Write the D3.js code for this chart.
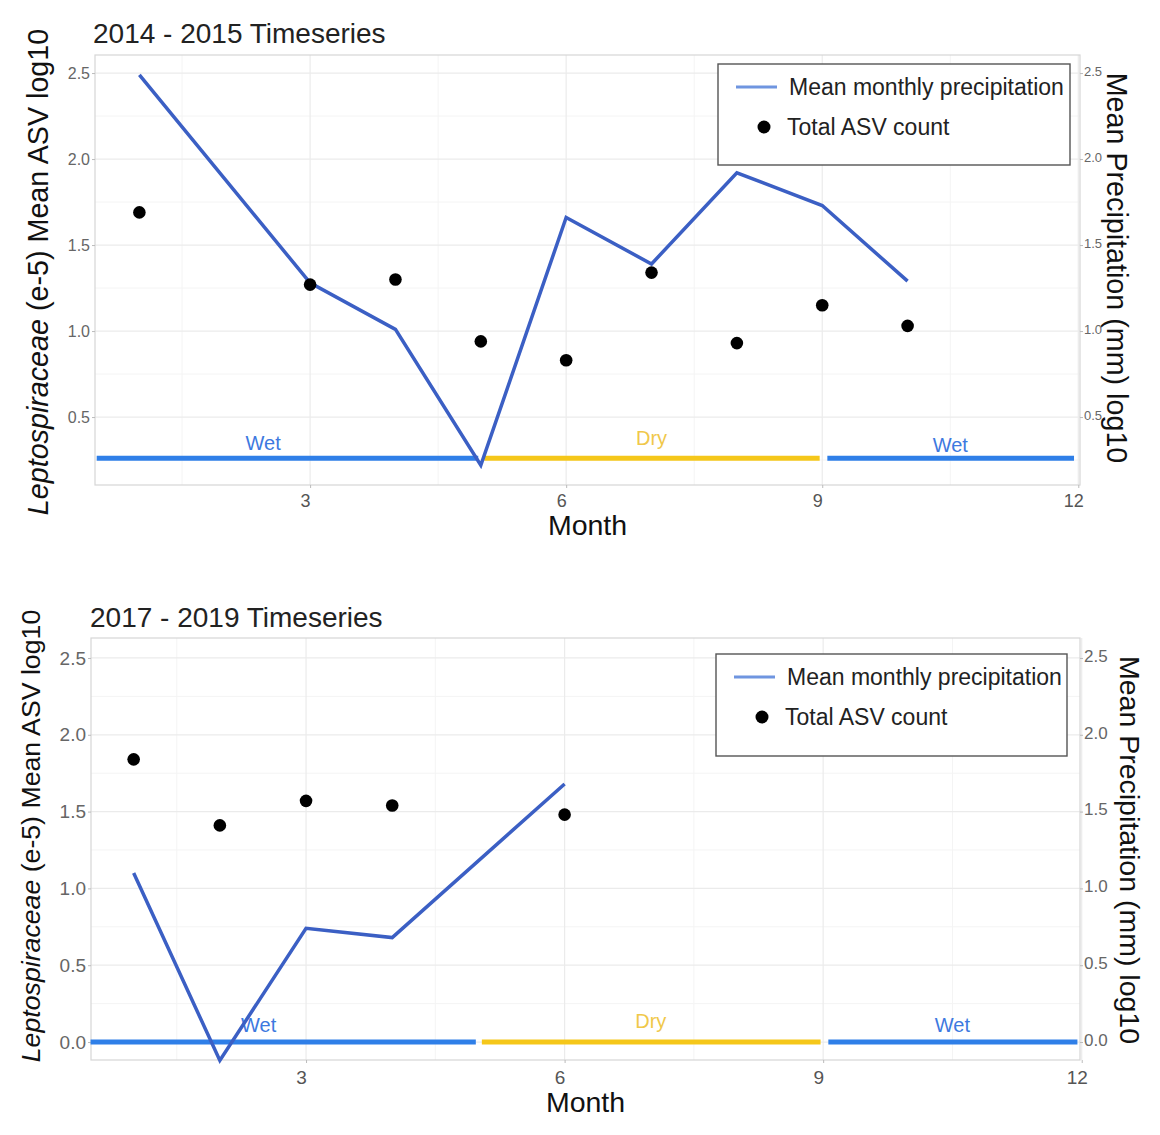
<!DOCTYPE html>
<html>
<head>
<meta charset="utf-8">
<script src="https://cdn.jsdelivr.net/npm/d3@7"></script>
<style>
  body { margin: 0; background: #fff; }
  svg text { font-family: "Liberation Sans", Arial, sans-serif; }
</style>
</head>
<body>
<div id="chart"></div>
<script>
// month axis
const monthTicks = [3, 6, 9, 12];
const monthMinor = [1.5, 4.5, 7.5, 10.5];

// seasons (same for both panels)
const seasonNames = ["Wet", "Dry", "Wet"];
const seasonStart = [0.5, 5.04, 9.06];
const seasonEnd = [4.97, 8.97, 11.95];
const seasonLabelX = [2.45, 7, 10.5];

// 2014 - 2015
const asvMonths1 = [1, 3, 4, 5, 6, 7, 8, 9, 10];
const asvValues1 = [1.69, 1.27, 1.30, 0.94, 0.83, 1.34, 0.93, 1.15, 1.03];
const precipMonths1 = [1, 3, 4, 5, 6, 7, 8, 9, 10];
const precipValues1 = [2.49, 1.28, 1.01, 0.22, 1.66, 1.39, 1.92, 1.73, 1.29];
const seasonLevel1 = 0.26;
const seasonLabelY1 = [0.35, 0.38, 0.34];
const yTicks1 = [0.5, 1.0, 1.5, 2.0, 2.5];

// 2017 - 2019
const asvMonths2 = [1, 2, 3, 4, 6];
const asvValues2 = [1.84, 1.41, 1.57, 1.54, 1.48];
const precipMonths2 = [1, 2, 3, 4, 6];
const precipValues2 = [1.10, -0.12, 0.74, 0.68, 1.68];
const seasonLevel2 = 0;
const seasonLabelY2 = [0.11, 0.14, 0.11];
const yTicks2 = [0.0, 0.5, 1.0, 1.5, 2.0, 2.5];

const lineColor = "#3b5fc4";
const wetColor = "#2f7fe8";
const dryColor = "#f5c71a";

var svg = d3.select("#chart").append("svg")
    .attr("width", 1160)
    .attr("height", 1135);

drawPanel({
  title: "2014 - 2015 Timeseries", titleX: 93, titleY: 43,
  left: 95, right: 1080, top: 55, bottom: 485,
  xDomain: [0.48, 12.02], yDomain: [0.105, 2.605],
  yTicks: yTicks1, tickFont: 16, rightTickFont: 13, xTickFont: 18,
  asvMonths: asvMonths1, asvValues: asvValues1,
  precipMonths: precipMonths1, precipValues: precipValues1,
  seasonLevel: seasonLevel1, seasonLabelY: seasonLabelY1,
  leftTitleX: 48, leftTitleY: 272, leftTitleSize: 28.7,
  rightTitleX: 1107, rightTitleY: 268, rightTitleSize: 28.7,
  monthY: 535, xTickY: 507, rightTickX: 1083,
  legend: {x: 718, y: 64, w: 352, h: 101}
});

drawPanel({
  title: "2017 - 2019 Timeseries", titleX: 90, titleY: 627,
  left: 91, right: 1080, top: 638, bottom: 1060,
  xDomain: [0.505, 11.98], yDomain: [-0.117, 2.63],
  yTicks: yTicks2, tickFont: 19, rightTickFont: 17, xTickFont: 19,
  asvMonths: asvMonths2, asvValues: asvValues2,
  precipMonths: precipMonths2, precipValues: precipValues2,
  seasonLevel: seasonLevel2, seasonLabelY: seasonLabelY2,
  leftTitleX: 40, leftTitleY: 836, leftTitleSize: 26.7,
  rightTitleX: 1120, rightTitleY: 850, rightTitleSize: 28.5,
  monthY: 1112, xTickY: 1084, rightTickX: 1087,
  legend: {x: 716, y: 654, w: 351, h: 102}
});

function drawPanel(p) {
  var g = svg.append("g");

  var x = d3.scaleLinear().domain(p.xDomain).range([p.left, p.right]);
  var y = d3.scaleLinear().domain(p.yDomain).range([p.bottom, p.top]);

  var yMinor = d3.range(p.yTicks[0] - 0.25, 2.75, 0.5)
      .filter(v => v > p.yDomain[0] && v < p.yDomain[1]);

  // grid
  g.selectAll(".xminor").data(monthMinor).enter().append("line")
    .attr("x1", d => x(d)).attr("x2", d => x(d))
    .attr("y1", p.top).attr("y2", p.bottom)
    .attr("stroke", "#f4f4f4").attr("stroke-width", 1);
  g.selectAll(".yminor").data(yMinor).enter().append("line")
    .attr("x1", p.left).attr("x2", p.right)
    .attr("y1", d => y(d)).attr("y2", d => y(d))
    .attr("stroke", "#f4f4f4").attr("stroke-width", 1);
  g.selectAll(".xmajor").data(monthTicks).enter().append("line")
    .attr("x1", d => x(d)).attr("x2", d => x(d))
    .attr("y1", p.top).attr("y2", p.bottom)
    .attr("stroke", "#ebebeb").attr("stroke-width", 1.2);
  g.selectAll(".ymajor").data(p.yTicks).enter().append("line")
    .attr("x1", p.left).attr("x2", p.right)
    .attr("y1", d => y(d)).attr("y2", d => y(d))
    .attr("stroke", "#ebebeb").attr("stroke-width", 1.2);

  g.append("rect")
    .attr("x", p.left).attr("y", p.top)
    .attr("width", p.right - p.left).attr("height", p.bottom - p.top)
    .attr("fill", "none").attr("stroke", "#d6d6d6").attr("stroke-width", 1.2);

  // axes
  var yAxisL = g.append("g")
    .attr("transform", "translate(" + p.left + ",0)")
    .call(d3.axisLeft(y).tickValues(p.yTicks).tickFormat(d3.format(".1f")).tickSize(3).tickPadding(2));
  var yAxisR = g.append("g")
    .attr("transform", "translate(" + p.right + ",0)")
    .call(d3.axisRight(y).tickValues(p.yTicks).tickFormat(d3.format(".1f")).tickSize(3).tickPadding(1));
  var xAxis = g.append("g")
    .attr("transform", "translate(0," + p.bottom + ")")
    .call(d3.axisBottom(x).tickValues(monthTicks).tickSize(3).tickPadding(4));

  [yAxisL, yAxisR, xAxis].forEach(a => {
    a.select(".domain").remove();
    a.selectAll(".tick line").attr("stroke", "#bbb");
    a.selectAll("text").attr("fill", "#666").style("font-family", "Liberation Sans, Arial, sans-serif");
  });
  yAxisL.selectAll("text").style("font-size", p.tickFont + "px");
  yAxisR.selectAll("text").style("font-size", p.rightTickFont + "px").attr("dy", "0.2em");
  xAxis.selectAll("text").style("font-size", p.xTickFont + "px")
    .attr("y", null).attr("dy", null)
    .attr("transform", "translate(-5," + (p.xTickY - p.bottom) + ")")
    .attr("fill", "#555");

  // season bars
  seasonNames.forEach((s, i) => {
    var col = s == "Wet" ? wetColor : dryColor;
    g.append("line")
      .attr("x1", x(seasonStart[i])).attr("x2", x(seasonEnd[i]))
      .attr("y1", y(p.seasonLevel)).attr("y2", y(p.seasonLevel))
      .attr("stroke", col).attr("stroke-width", 5);
    g.append("text")
      .attr("x", x(seasonLabelX[i]))
      .attr("y", y(p.seasonLabelY[i]))
      .attr("dy", "0.35em")
      .attr("text-anchor", "middle")
      .style("font-size", "20px")
      .attr("fill", s == "Wet" ? "#3d79e0" : "#f0c84a")
      .text(s);
  });

  // precipitation line
  var lineData = p.precipMonths.map((m, i) => ({m: m, v: p.precipValues[i]}));
  var line = d3.line().x(d => x(d.m)).y(d => y(d.v));
  g.append("path")
    .datum(lineData)
    .attr("fill", "none")
    .attr("stroke", lineColor)
    .attr("stroke-width", 3.5)
    .attr("d", line);

  // asv points
  var pts = p.asvMonths.map((m, i) => ({m: m, v: p.asvValues[i]}));
  g.selectAll(".pt").data(pts).enter().append("circle")
    .attr("cx", d => x(d.m))
    .attr("cy", d => y(d.v))
    .attr("r", 6.3)
    .attr("fill", "#000");

  // title
  g.append("text")
    .attr("x", p.titleX).attr("y", p.titleY)
    .style("font-size", "28px").attr("fill", "#222")
    .text(p.title);

  g.append("text")
    .attr("x", (p.left + p.right) / 2).attr("y", p.monthY)
    .attr("text-anchor", "middle")
    .style("font-size", "28.5px").attr("fill", "#111")
    .text("Month");

  var lt = g.append("text")
    .attr("transform", "translate(" + p.leftTitleX + "," + p.leftTitleY + ") rotate(-90)")
    .attr("text-anchor", "middle")
    .style("font-size", p.leftTitleSize + "px").attr("fill", "#111");
  lt.append("tspan").style("font-style", "italic").text("Leptospiraceae");
  lt.append("tspan").text(" (e-5) Mean ASV log10");

  g.append("text")
    .attr("transform", "translate(" + p.rightTitleX + "," + p.rightTitleY + ") rotate(90)")
    .attr("text-anchor", "middle")
    .style("font-size", p.rightTitleSize + "px").attr("fill", "#111")
    .text("Mean Precipitation (mm) log10");

  // legend
  var L = p.legend;
  var lg = g.append("g").attr("transform", "translate(" + L.x + "," + L.y + ")");
  lg.append("rect").attr("width", L.w).attr("height", L.h)
    .attr("fill", "#fff").attr("stroke", "#555").attr("stroke-width", 1.4);
  lg.append("line").attr("x1", 18).attr("x2", 59).attr("y1", 23).attr("y2", 23)
    .attr("stroke", "#6f95e0").attr("stroke-width", 3);
  lg.append("text").attr("x", 71).attr("y", 23).attr("dy", "0.35em")
    .style("font-size", "23px").attr("fill", "#222").text("Mean monthly precipitation");
  lg.append("circle").attr("cx", 46).attr("cy", 63).attr("r", 6.5).attr("fill", "#000");
  lg.append("text").attr("x", 69).attr("y", 63).attr("dy", "0.35em")
    .style("font-size", "23px").attr("fill", "#222").text("Total ASV count");
}
</script>
</body>
</html>
